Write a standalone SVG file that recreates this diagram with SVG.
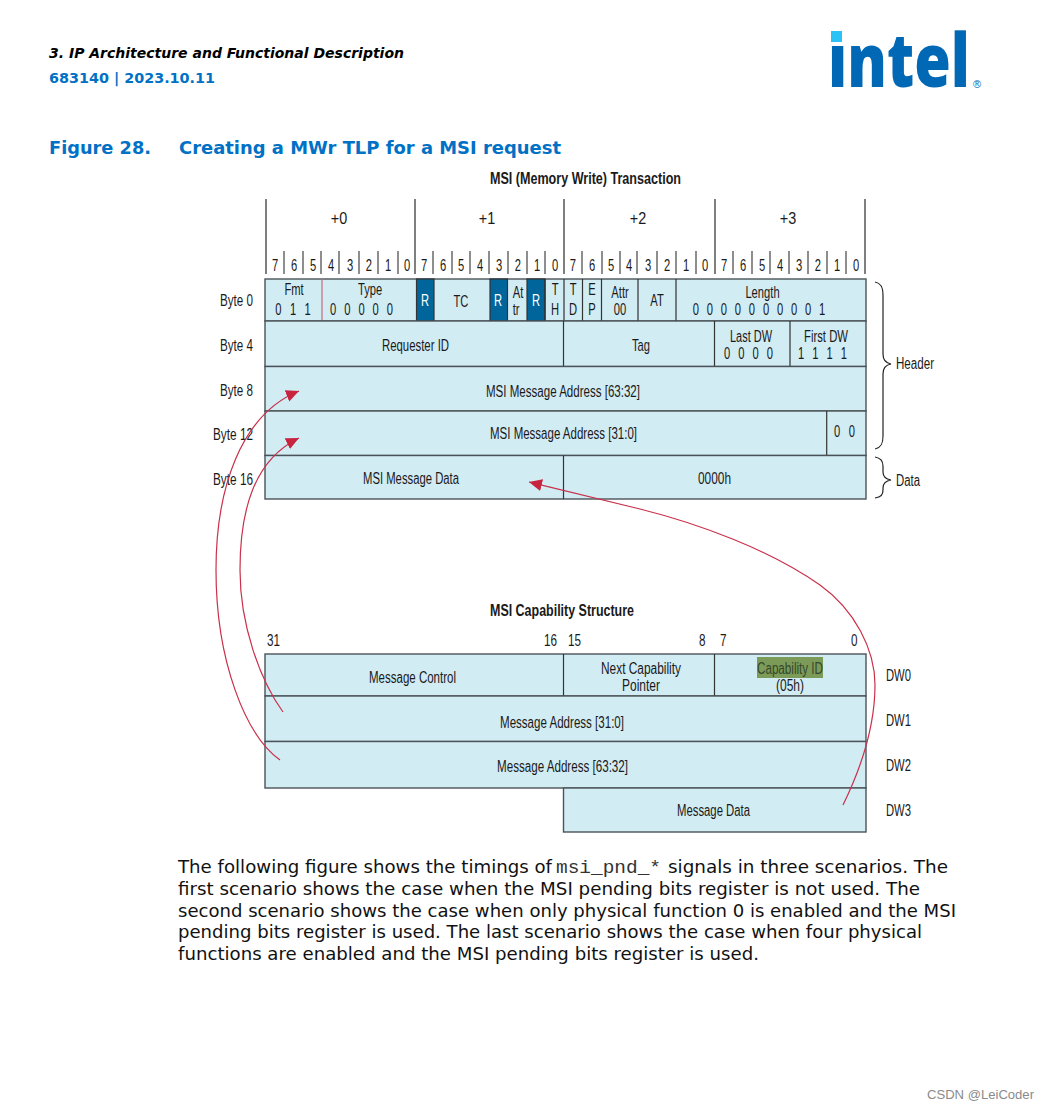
<svg xmlns="http://www.w3.org/2000/svg" width="1049" height="1109" viewBox="0 0 1049 1109">
<style>
text{font-family:"Liberation Sans",Arial,sans-serif;fill:#1a1a1a;font-size:16px}
.c{text-anchor:middle}
.r{text-anchor:end}
.b{font-weight:bold}
.n{transform-box:fill-box;transform-origin:center;transform:scaleX(.7);text-anchor:middle}
.w{fill:#fff}
.cell{fill:#d2ecf4;stroke:#4a5358;stroke-width:1.4}
.dark{fill:#00659b;stroke:#333;stroke-width:1.2}
.tick{stroke:#444;stroke-width:1.2;fill:none}
.maj{stroke:#555;stroke-width:1.5;fill:none}
.div{stroke:#333;stroke-width:1.2;fill:none}
.arc{stroke:#c9304a;stroke-width:1.2;fill:none;marker-end:url(#ah)}
.brace{stroke:#222;stroke-width:1.2;fill:none}
.body{font-family:"DejaVu Sans",Verdana,sans-serif;font-size:17.6px;fill:#111}
.hd{font-family:"DejaVu Sans",Verdana,sans-serif;font-weight:bold}
.blue{fill:#0071c5}
</style>
<defs>
<marker id="ah" markerUnits="userSpaceOnUse" markerWidth="15" markerHeight="13" refX="13" refY="6" orient="auto"><path d="M0 0L13 6L0 12z" fill="#c9243f"/></marker>
<clipPath id="nodot"><rect x="0" y="-42" width="30" height="50"/><rect x="24" y="-70" width="200" height="80"/></clipPath>
</defs>
<rect width="1049" height="1109" fill="#fff"/>

<g id="header">
<text class="hd" x="49" y="58" textLength="355" lengthAdjust="spacingAndGlyphs" style="font-size:14.5px;font-style:italic;fill:#000">3. IP Architecture and Functional Description</text>
<text class="hd blue" x="49" y="83" textLength="166" lengthAdjust="spacingAndGlyphs" style="font-size:14px;fill:#0071c5">683140 | 2023.10.11</text>
<text class="hd blue" x="49" y="154" textLength="102" lengthAdjust="spacingAndGlyphs" style="font-size:18.5px;fill:#0071c5">Figure 28.</text>
<text class="hd blue" x="179" y="154" textLength="382" lengthAdjust="spacingAndGlyphs" style="font-size:18.5px;fill:#0071c5">Creating a MWr TLP for a MSI request</text>
</g>
<g id="logo">
<text transform="translate(828 87) scale(.8 1)" clip-path="url(#nodot)" x="0" y="0" style="font-family:'Open Sans',sans-serif;font-size:74px;font-weight:800;fill:#0068b5">intel</text>
<rect x="831" y="31" width="11" height="11" fill="#2bc3f5"/>
<text x="973" y="88" style="font-size:11px;fill:#0068b5">®</text>
</g>

<text class="c b" x="585.5" y="184" id="title1" textLength="191" lengthAdjust="spacingAndGlyphs">MSI (Memory Write) Transaction</text>
<text class="c b" x="562" y="616" id="title2" textLength="144" lengthAdjust="spacingAndGlyphs">MSI Capability Structure</text>

<g id="ruler">
<path class="maj" d="M266 199V274M415 199V274M564 199V274M715 199V274M865 199V274"/>
<path class="tick" d="M284 251V274M303 251V274M321 251V274M339 251V274M359 251V274M378 251V274M398 251V274M433 251V274M452 251V274M470 251V274M489 251V274M508 251V274M527 251V274M545 251V274M582 251V274M602 251V274M620 251V274M637 251V274M657 251V274M676 251V274M696 251V274M733 251V274M752 251V274M770 251V274M789 251V274M808 251V274M827 251V274M846 251V274"/>
<text class="n" x="339" y="224" style="transform:scaleX(.9)">+0</text><text class="n" x="487" y="224" style="transform:scaleX(.9)">+1</text><text class="n" x="638" y="224" style="transform:scaleX(.9)">+2</text><text class="n" x="788" y="224" style="transform:scaleX(.9)">+3</text>
<text class="n" x="275" y="271">7</text><text class="n" x="294" y="271">6</text><text class="n" x="313" y="271">5</text><text class="n" x="331" y="271">4</text><text class="n" x="350" y="271">3</text><text class="n" x="369" y="271">2</text><text class="n" x="388" y="271">1</text><text class="n" x="407" y="271">0</text>
<text class="n" x="424" y="271">7</text><text class="n" x="443" y="271">6</text><text class="n" x="461" y="271">5</text><text class="n" x="480" y="271">4</text><text class="n" x="499" y="271">3</text><text class="n" x="518" y="271">2</text><text class="n" x="537" y="271">1</text><text class="n" x="555" y="271">0</text>
<text class="n" x="573" y="271">7</text><text class="n" x="592" y="271">6</text><text class="n" x="611" y="271">5</text><text class="n" x="629" y="271">4</text><text class="n" x="648" y="271">3</text><text class="n" x="667" y="271">2</text><text class="n" x="686" y="271">1</text><text class="n" x="705" y="271">0</text>
<text class="n" x="724" y="271">7</text><text class="n" x="743" y="271">6</text><text class="n" x="762" y="271">5</text><text class="n" x="780" y="271">4</text><text class="n" x="799" y="271">3</text><text class="n" x="818" y="271">2</text><text class="n" x="837" y="271">1</text><text class="n" x="856" y="271">0</text>
</g>

<g id="tlp-row0">
<rect class="cell" x="265" y="279" width="601" height="42"/>
<rect class="dark" x="416.5" y="279" width="17.5" height="42"/>
<rect class="dark" x="490" y="279" width="17.5" height="42"/>
<rect class="dark" x="527" y="279" width="18" height="42"/>
<path d="M322 279V321" stroke="#c56a7c" stroke-width="1.2" fill="none"/>
<path class="div" d="M545 279V321M564 279V321M582.5 279V321M601.5 279V321M638 279V321M676 279V321"/>
<text class="n" x="294" y="295">Fmt</text><text class="n" x="293" y="315" textLength="51" lengthAdjust="spacing">0 1 1</text>
<text class="n" x="370" y="295">Type</text><text class="n" x="361.500" y="315" textLength="90" lengthAdjust="spacing">0 0 0 0 0</text>
<text class="n" x="425" y="306" style="fill:#fff">R</text><text class="n" x="461" y="307">TC</text>
<text class="n" x="498" y="306" style="fill:#fff">R</text><text class="n" x="518" y="298">At</text><text class="n" x="516" y="315">tr</text>
<text class="n" x="536" y="306" style="fill:#fff">R</text><text class="n" x="555" y="295">T</text><text class="n" x="555" y="315">H</text>
<text class="n" x="573" y="295">T</text><text class="n" x="573" y="315">D</text><text class="n" x="592" y="295">E</text><text class="n" x="592" y="315">P</text>
<text class="n" x="620" y="298">Attr</text><text class="n" x="620" y="315">00</text><text class="n" x="657" y="306">AT</text>
<text class="n" x="762.500" y="298">Length</text><text class="n" x="759" y="315" textLength="189" lengthAdjust="spacing">0 0 0 0 0 0 0 0 0 1</text>
</g>
<g id="tlp-row1">
<rect class="cell" x="265" y="321" width="601" height="45.5"/>
<path class="div" d="M563.5 321V366.5M714.5 321V366.5M790 321V366.5"/>
<text class="c" x="415.500" y="351" textLength="67" lengthAdjust="spacingAndGlyphs">Requester ID</text><text class="n" x="641" y="351">Tag</text>
<text class="c" x="751" y="342" textLength="42" lengthAdjust="spacingAndGlyphs">Last DW</text><text class="n" x="748.500" y="359" textLength="70" lengthAdjust="spacing">0 0 0 0</text>
<text class="c" x="826" y="342" textLength="44" lengthAdjust="spacingAndGlyphs">First DW</text><text class="n" x="822.500" y="359" textLength="70" lengthAdjust="spacing">1 1 1 1</text>
</g>
<g id="tlp-row2">
<rect class="cell" x="265" y="366.5" width="601" height="44.5"/>
<text class="c" x="563" y="397" textLength="154" lengthAdjust="spacingAndGlyphs">MSI Message Address [63:32]</text>
</g>
<g id="tlp-row3">
<rect class="cell" x="265" y="411" width="601" height="44.5"/>
<path class="div" d="M826.7 411V455.5"/>
<text class="c" x="563.500" y="439" textLength="147" lengthAdjust="spacingAndGlyphs">MSI Message Address [31:0]</text><text class="n" x="844.500" y="437" textLength="30" lengthAdjust="spacing">0 0</text>
</g>
<g id="tlp-row4">
<rect class="cell" x="265" y="455.500" width="601" height="43.5"/>
<path class="div" d="M563.5 455.5V499"/>
<text class="c" x="411" y="484" textLength="96" lengthAdjust="spacingAndGlyphs">MSI Message Data</text><text class="c" x="714.500" y="484" textLength="33" lengthAdjust="spacingAndGlyphs">0000h</text>
</g>
<g id="byte-labels">
<text class="r" x="253" y="306" textLength="33" lengthAdjust="spacingAndGlyphs">Byte 0</text><text class="r" x="253" y="351" textLength="33" lengthAdjust="spacingAndGlyphs">Byte 4</text><text class="r" x="253" y="396" textLength="33" lengthAdjust="spacingAndGlyphs">Byte 8</text><text class="r" x="253" y="440" textLength="40" lengthAdjust="spacingAndGlyphs">Byte 12</text><text class="r" x="253" y="485" textLength="40" lengthAdjust="spacingAndGlyphs">Byte 16</text>
</g>
<g id="braces">
<path class="brace" d="M875 282C881 283 883 287 883 295V354C883 360 885 363 891 364C885 365 883 368 883 374V436C883 444 881 448 875 449"/>
<path class="brace" d="M875 457C881 458 883 461 883 466V472C883 476 885 479 891 480C885 481 883 484 883 488V490C883 495 881 497 875 498"/>
<text x="896" y="369" textLength="38" lengthAdjust="spacingAndGlyphs">Header</text><text x="896" y="486" textLength="24" lengthAdjust="spacingAndGlyphs">Data</text>
</g>

<g id="scale-labels">
<text x="267" y="646" textLength="13" lengthAdjust="spacingAndGlyphs">31</text><text x="544" y="646" textLength="13" lengthAdjust="spacingAndGlyphs">16</text><text x="568" y="646" textLength="13" lengthAdjust="spacingAndGlyphs">15</text><text x="699" y="646" textLength="6.500" lengthAdjust="spacingAndGlyphs">8</text><text x="720" y="646" textLength="6.500" lengthAdjust="spacingAndGlyphs">7</text><text x="851" y="646" textLength="6.500" lengthAdjust="spacingAndGlyphs">0</text>
</g>

<g id="cap-dw0">
<rect class="cell" x="265" y="654" width="601" height="42"/>
<path class="div" d="M563.5 654V696M714.5 654V696"/>
<rect x="757" y="657" width="66" height="21" fill="#7d9b58"/>
<text class="c" x="412.500" y="683" textLength="87" lengthAdjust="spacingAndGlyphs">Message Control</text>
<text class="c" x="641" y="674" textLength="80" lengthAdjust="spacingAndGlyphs">Next Capability</text><text class="c" x="641" y="691" textLength="38" lengthAdjust="spacingAndGlyphs">Pointer</text>
<text class="c" x="790" y="674" textLength="66" lengthAdjust="spacingAndGlyphs" style="fill:#33482c">Capability ID</text><text class="c" x="790" y="691" textLength="28" lengthAdjust="spacingAndGlyphs">(05h)</text>
<text x="886" y="681" textLength="25" lengthAdjust="spacingAndGlyphs">DW0</text>
</g>
<g id="cap-dw1">
<rect class="cell" x="265" y="696" width="601" height="45.5"/>
<text class="c" x="562" y="728" textLength="124" lengthAdjust="spacingAndGlyphs">Message Address [31:0]</text><text x="886" y="726" textLength="25" lengthAdjust="spacingAndGlyphs">DW1</text>
</g>
<g id="cap-dw2">
<rect class="cell" x="265" y="741.5" width="601" height="46.5"/>
<text class="c" x="562.500" y="772" textLength="131" lengthAdjust="spacingAndGlyphs">Message Address [63:32]</text><text x="886" y="771" textLength="25" lengthAdjust="spacingAndGlyphs">DW2</text>
</g>
<g id="cap-dw3">
<rect class="cell" x="563.5" y="788" width="302.5" height="44"/>
<text class="c" x="713.500" y="816" textLength="73" lengthAdjust="spacingAndGlyphs">Message Data</text><text x="886" y="816" textLength="25" lengthAdjust="spacingAndGlyphs">DW3</text>
</g>

<g id="connectors">
<path class="arc" d="M280 760C245 735 216 660 216 570C216 490 240 415 299 391"/>
<path class="arc" d="M283 712C260 680 240 625 240 570C240 510 254 460 299 438"/>
<path class="arc" d="M843 805C865 760 875 720 875 685C875 650 855 610 820 585C770 550 700 524 640 509C600 499 565 491 529 482"/>
</g>

<g id="paragraph">
<text class="body" x="178" y="873" textLength="374" lengthAdjust="spacingAndGlyphs">The following figure shows the timings of</text>
<text class="body" x="556" y="873" textLength="105" lengthAdjust="spacingAndGlyphs" style="font-family:'Liberation Mono',monospace;font-size:18px;fill:#333">msi_pnd_*</text>
<text class="body" x="668" y="873" textLength="280" lengthAdjust="spacingAndGlyphs">signals in three scenarios. The</text>
<text class="body" x="178" y="895" textLength="742" lengthAdjust="spacingAndGlyphs">first scenario shows the case when the MSI pending bits register is not used. The</text>
<text class="body" x="178" y="917" textLength="778" lengthAdjust="spacingAndGlyphs">second scenario shows the case when only physical function 0 is enabled and the MSI</text>
<text class="body" x="178" y="938" textLength="744" lengthAdjust="spacingAndGlyphs">pending bits register is used. The last scenario shows the case when four physical</text>
<text class="body" x="178" y="960" textLength="581" lengthAdjust="spacingAndGlyphs">functions are enabled and the MSI pending bits register is used.</text>
</g>
<text x="1034" y="1099" class="r" textLength="107" lengthAdjust="spacingAndGlyphs" style="font-size:12.5px;fill:#8a8a8a">CSDN @LeiCoder</text>
</svg>
